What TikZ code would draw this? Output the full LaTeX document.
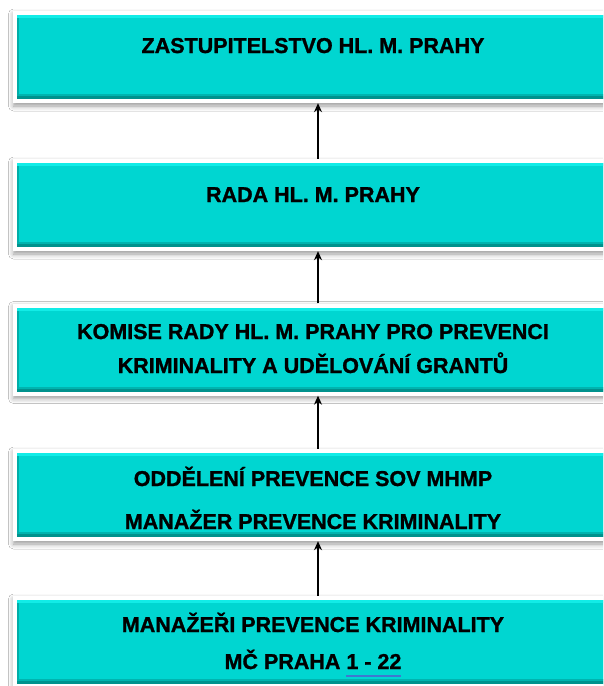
\documentclass[tikz,border=0pt]{standalone}
\usepackage{fontspec}
\setmainfont{Liberation Sans}
\newfontfamily\boxfont[FakeBold=1.2]{Liberation Sans Bold}
\usetikzlibrary{shadows.blur,arrows.meta}
\definecolor{turq}{HTML}{00D6D1}
\definecolor{turqlight}{HTML}{12ECE7}
\definecolor{turqdark}{HTML}{00928D}
\definecolor{ulblue}{HTML}{3F78D0}
\newcommand{\blueul}[1]{{\setbox0\hbox{#1}\rlap{\color{ulblue}\rule[-8pt]{\wd0}{2.2pt}}\box0}}
\tikzset{
  x=1pt,y=1pt,
  orgbox/.style={rectangle, inner sep=0pt, minimum width=600pt, minimum height=92pt,
    fill=white, draw=none,
    blur shadow={shadow xshift=0.5pt, shadow yshift=-3pt, shadow blur radius=5pt, shadow opacity=40},
    path picture={
      \coordinate (sw) at ([shift={(4pt,4pt)}]path picture bounding box.south west);
      \coordinate (ne) at ([shift={(-4pt,-4pt)}]path picture bounding box.north east);
      \fill[turq] (sw) rectangle (ne);
      \fill[turqlight] (sw |- ne) rectangle ([yshift=-3pt]ne);
      \fill[turqdark] (sw) rectangle ([yshift=3pt]sw -| ne);
      \fill[turqdark!50!turq] ([yshift=3pt]sw) rectangle ([yshift=5pt]sw -| ne);
      \fill[turqdark!60!turq] ([yshift=3pt]sw) rectangle ([xshift=2pt,yshift=-3pt]sw |- ne);
    }},
  lbl/.style={font=\boxfont\fontsize{21.5}{24}\selectfont, anchor=base, inner sep=0pt, text=black},
  arr/.style={-{Stealth[length=9pt,width=8pt]}, line width=1.1pt, black}
}
\begin{document}
\begin{tikzpicture}
\clip (0,0) rectangle (603,-686);
\fill[white] (0,0) rectangle (603,-686);

\node[orgbox] (b1) at (313,-57) {};
\node[orgbox] (b2) at (313,-205) {};
\node[orgbox] (b3) at (313,-349.5) {};
\node[orgbox] (b4) at (313,-495) {};
\node[orgbox] (b5) at (313,-642) {};

\node[lbl] (t1) at (313,-53) {ZASTUPITELSTVO HL. M. PRAHY};
\node[lbl] (t2) at (313,-202) {RADA HL. M. PRAHY};
\node[lbl] (t3a) at (313,-339) {KOMISE RADY HL. M. PRAHY PRO PREVENCI};
\node[lbl] (t3b) at (313,-373) {KRIMINALITY A UDĚLOVÁNÍ GRANTŮ};
\node[lbl] (t4a) at (313,-486) {ODDĚLENÍ PREVENCE SOV MHMP};
\node[lbl] (t4b) at (313,-529) {MANAŽER PREVENCE KRIMINALITY};
\node[lbl] (t5a) at (313,-632) {MANAŽEŘI PREVENCE KRIMINALITY};
\node[lbl] (t5b) at (313,-669) {MČ PRAHA \blueul{1 - 22}};

\draw[arr] ([xshift=5pt]b2.north) -- ([xshift=5pt]b1.south);
\draw[arr] ([xshift=5pt]b3.north) -- ([xshift=5pt]b2.south);
\draw[arr] ([xshift=5pt]b4.north) -- ([xshift=5pt]b3.south);
\draw[arr] ([xshift=5pt]b5.north) -- ([xshift=5pt]b4.south);
\end{tikzpicture}
\end{document}
